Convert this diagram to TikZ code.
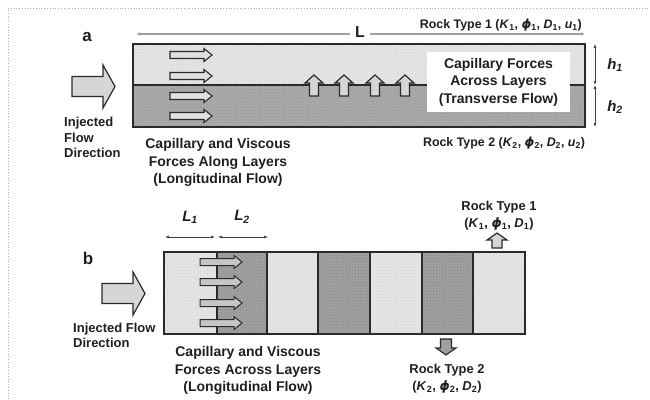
\documentclass[tikz,border=0pt]{standalone}
\usepackage{fontspec}
\setmainfont{Liberation Sans}
\newfontfamily\phifont{DejaVu Sans}
\usetikzlibrary{patterns,arrows.meta}
\definecolor{txt}{HTML}{1E1E26}
\definecolor{lightrock}{HTML}{E6E6E6}
\definecolor{lightdot}{HTML}{CDCDCD}
\definecolor{darkrock}{HTML}{ABABAB}
\definecolor{darkdot}{HTML}{8E8E8E}
\definecolor{darkrockb}{HTML}{A2A2A2}
\definecolor{darkdotb}{HTML}{7C7C7C}
\definecolor{arrfill}{HTML}{D6D6D6}
\definecolor{outline}{HTML}{2A2A2A}
\newcommand\phis{{\phifont\bfseries\itshape ϕ}}
% right-pointing block arrow: [style]{x1}{x2}{y}{half body}{half head}{head length}
\newcommand\rarr[7][arrA]{\draw[#1] (#2,{#4-#5}) -- ({#3-#7},{#4-#5}) -- ({#3-#7},{#4-#6}) -- (#3,#4) -- ({#3-#7},{#4+#6}) -- ({#3-#7},{#4+#5}) -- (#2,{#4+#5}) -- cycle;}
% upward block arrow: [style]{x}{ybottom}{ytop}{half body}{half head}{head length}
\newcommand\uarr[7][arrA]{\draw[#1] ({#2-#5},#3) -- ({#2-#5},{#4+#7}) -- ({#2-#6},{#4+#7}) -- (#2,#4) -- ({#2+#6},{#4+#7}) -- ({#2+#5},{#4+#7}) -- ({#2+#5},#3) -- cycle;}
% downward block arrow: [style]{x}{ytop}{ytip}{half body}{half head}{head length}
\newcommand\darr[7][arrA]{\draw[#1] ({#2-#5},#3) -- ({#2-#5},{#4-#7}) -- ({#2-#6},{#4-#7}) -- (#2,#4) -- ({#2+#6},{#4-#7}) -- ({#2+#5},{#4-#7}) -- ({#2+#5},#3) -- cycle;}
\begin{document}
\begin{tikzpicture}[x=1bp,y=-1bp,
  every node/.style={text=txt, font=\bfseries, inner sep=0pt},
  arrA/.style={draw=outline, fill=arrfill, line width=1.2bp, line join=miter},
  arrS/.style={draw=outline, fill=white!88!black, line width=1.1bp},
  arrSb/.style={draw=outline, fill=gray!45, line width=1bp},
  arrD/.style={draw=outline, fill=gray!75, line width=1.1bp},
  dimline/.style={{Latex[length=4bp,width=3bp]}-{Latex[length=4bp,width=3bp]}, line width=0.6bp, black!75},
  captext/.style={align=center, font=\bfseries\fontsize{14bp}{17.5bp}\selectfont},
  rocktext/.style={font=\bfseries\fontsize{12.4bp}{16bp}\selectfont, align=center},
  rocktextb/.style={font=\bfseries\fontsize{12.9bp}{16.5bp}\selectfont, align=center},
  dimlab/.style={font=\bfseries\itshape\fontsize{15bp}{15bp}\selectfont},
]
\useasboundingbox (0,0) rectangle (650,399);
\draw[dotted, gray!60, line width=0.8bp] (8,399) -- (8,8) -- (650,8);

% ---------------- panel a ----------------
\fill[lightrock] (133,44) rectangle (585,85);
\fill[pattern=crosshatch dots, pattern color=lightdot] (133,44) rectangle (585,85);
\fill[darkrock] (133,85) rectangle (585,127);
\fill[pattern=crosshatch dots, pattern color=darkdot] (133,85) rectangle (585,127);
\coordinate (aDivW) at (133,85);
\coordinate (aDivE) at (585,85);
\draw[line width=1.6bp, outline] (aDivW) -- (aDivE);
\draw[line width=2bp, outline] (133,44) rectangle (585,127);

\node (la) at (87,37) {\fontsize{17bp}{17bp}\selectfont a};

% L dimension
\coordinate (Lw) at (136,34);
\coordinate (Le) at (585,34);
\draw[{Latex[length=4bp,width=3.5bp]}-{Latex[length=4bp,width=3.5bp]}, line width=1.3bp, gray!75] (Lw) -- (Le);
\node[fill=white, inner xsep=5bp, inner ysep=2bp] (Llab) at (360,32) {\fontsize{16bp}{16bp}\selectfont L};

\node[rocktext, anchor=east] (rt1a) at (582,25) {Rock Type 1 (\textit{K}\textsubscript{1}, \phis\textsubscript{1}, \textit{D}\textsubscript{1}, \textit{u}\textsubscript{1})};
\node[rocktext] (rt2a) at (504,143) {Rock Type 2 (\textit{K}\textsubscript{2}, \phis\textsubscript{2}, \textit{D}\textsubscript{2}, \textit{u}\textsubscript{2})};

% h dimensions
\coordinate (h0) at (595,44);
\coordinate (h1) at (595,85);
\coordinate (h2) at (595,127);
\draw[dimline] (h0) -- (h1);
\draw[dimline] (h1) -- (h2);
\node[dimlab] (h1lab) at (615,65) {h\textsubscript{1}};
\node[dimlab] (h2lab) at (615,107) {h\textsubscript{2}};

% white box
\node[captext, fill=white, minimum width=143bp, minimum height=60bp] (trans) at (498.5,82) {Capillary Forces\\Across Layers\\(Transverse Flow)};

% arrows along layers
\rarr[arrS]{170}{212}{55}{3.5}{6.5}{8}
\rarr[arrS]{170}{212}{76}{3.5}{6.5}{8}
\rarr[arrS]{170}{212}{96}{3.5}{6.5}{8}
\rarr[arrS]{170}{212}{116}{3.5}{6.5}{8}

% arrows across layers
\uarr[arrA]{314}{96}{75}{4.5}{9}{8}
\uarr[arrA]{344}{96}{75}{4.5}{9}{8}
\uarr[arrA]{375}{96}{75}{4.5}{9}{8}
\uarr[arrA]{405}{96}{75}{4.5}{9}{8}

% injected arrow
\rarr[arrA]{72}{115}{86.5}{10}{21.5}{12}
\node[align=left, anchor=west, font=\bfseries\fontsize{13bp}{15.5bp}\selectfont] (inja) at (64,137.5) {Injected\\Flow\\Direction};

\node[captext] (capa) at (218,162.5) {Capillary and Viscous\\Forces Along Layers\\(Longitudinal Flow)};

% ---------------- panel b ----------------
\node (lb) at (88,258) {\fontsize{17bp}{17bp}\selectfont b};
\foreach \xa/\xb/\k in {164/217/l,217/267/d,267/318/l,318/370/d,370/422/l,422/473/d,473/525/l}{
  \if l\k
    \fill[lightrock] (\xa,252) rectangle (\xb,334);
    \fill[pattern=crosshatch dots, pattern color=lightdot] (\xa,252) rectangle (\xb,334);
  \else
    \fill[darkrockb] (\xa,252) rectangle (\xb,334);
    \fill[pattern=crosshatch dots, pattern color=darkdotb] (\xa,252) rectangle (\xb,334);
  \fi
}
\foreach \x in {217,267,318,370,422,473}{
  \draw[line width=1.4bp, outline] (\x,252) -- (\x,334);
}
\draw[line width=1.6bp, outline] (164,252) rectangle (525,334);

% L1 L2 dims
\coordinate (d0) at (165,237);
\coordinate (d1) at (215,237);
\coordinate (d2) at (218,237);
\coordinate (d3) at (268,237);
\draw[dimline] (d0) -- (d1);
\draw[dimline] (d2) -- (d3);
\node[dimlab] (L1lab) at (190,217) {L\textsubscript{1}};
\node[dimlab] (L2lab) at (242,217) {L\textsubscript{2}};

% arrows across layers (b)
\rarr[arrSb]{200}{242}{262}{3.5}{6.5}{8}
\rarr[arrSb]{200}{242}{282}{3.5}{6.5}{8}
\rarr[arrSb]{200}{242}{303}{3.5}{6.5}{8}
\rarr[arrSb]{200}{242}{323}{3.5}{6.5}{8}

% injected arrow b
\rarr[arrA]{102}{145}{293.5}{10}{21.5}{12}
\node[align=left, anchor=west, font=\bfseries\fontsize{13bp}{15.5bp}\selectfont] (injb) at (73,335.5) {Injected Flow\\Direction};

\node[captext] (capb) at (248,370.5) {Capillary and Viscous\\Forces Across Layers\\(Longitudinal Flow)};

% rock types b
\uarr[arrA]{497}{248}{233}{5}{10}{7}
\node[rocktextb] (rt1b) at (499,215.5) {Rock Type 1\\(\textit{K}\textsubscript{1}, \phis\textsubscript{1}, \textit{D}\textsubscript{1})};
\darr[arrD]{446}{339}{355}{5.5}{10}{7}
\node[rocktextb] (rt2b) at (447,378.5) {Rock Type 2\\(\textit{K}\textsubscript{2}, \phis\textsubscript{2}, \textit{D}\textsubscript{2})};
\end{tikzpicture}
\end{document}
